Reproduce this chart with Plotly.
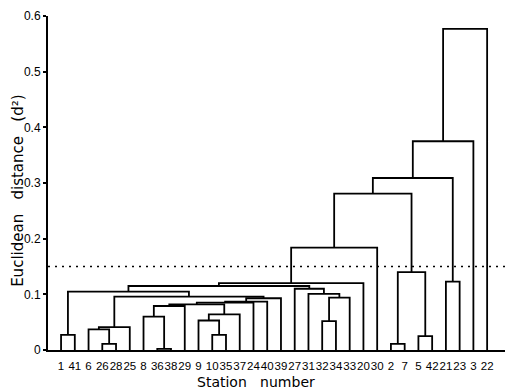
import plotly.graph_objects as go

# Leaves (stations) in dendrogram order
leaf_labels = ["1", "41", "6", "26", "28", "25", "8", "36", "38", "29", "9", "10",
               "35", "37", "24", "40", "39", "27", "31", "32", "34", "33", "20", "30",
               "2", "7", "5", "42", "21", "23", "3", "22"]

# Merges: name, left child, right child, fusion height (d^2)
merge_names = ["A", "c1", "c2", "B", "c3", "E", "G", "c4", "c5", "F", "H", "I", "J", "K",
               "BK", "D1", "N1", "N2", "N3", "O", "L", "M", "P", "q1", "q2", "Q", "R",
               "s1", "S", "T", "U"]
merge_left = ["1", "26", "6", "c2", "36", "8", "E", "10", "9", "c5", "G", "H", "I", "J",
              "B", "A", "32", "N1", "31", "27", "D1", "L", "M", "2", "5", "q1", "P",
              "21", "R", "S", "T"]
merge_right = ["41", "28", "c1", "25", "38", "c3", "29", "35", "c4", "37", "F", "24", "40", "39",
               "K", "BK", "34", "33", "N2", "N3", "O", "20", "30", "7", "42", "q2", "Q",
               "23", "s1", "3", "22"]
merge_height = [0.027, 0.011, 0.037, 0.041, 0.002, 0.060, 0.079, 0.027, 0.053, 0.064,
                0.082, 0.085, 0.087, 0.093, 0.096, 0.105, 0.052, 0.094, 0.101, 0.110,
                0.115, 0.120, 0.184, 0.011, 0.025, 0.140, 0.281, 0.123, 0.309, 0.375, 0.577]

cut_height = 0.15
y_tick_vals = [0, 0.1, 0.2, 0.3, 0.4, 0.5, 0.6]
y_tick_text = ["0", "0.1", "0.2", "0.3", "0.4", "0.5", "0.6"]

# Build dendrogram link coordinates from the merge table
pos = {lab: i for i, lab in enumerate(leaf_labels)}
hgt = {lab: 0.0 for lab in leaf_labels}
xs, ys = [], []
for name, l, r, h in zip(merge_names, merge_left, merge_right, merge_height):
    xs += [pos[l], pos[l], pos[r], pos[r], None]
    ys += [hgt[l], h, h, hgt[r], None]
    pos[name] = (pos[l] + pos[r]) / 2
    hgt[name] = h

x_range = [-0.95, 32.3]

fig = go.Figure()
fig.add_trace(go.Scatter(x=x_range, y=[cut_height, cut_height], mode="lines",
                         line=dict(color="black", width=1.5, dash="2px,5px"),
                         hoverinfo="skip", showlegend=False))
fig.add_trace(go.Scatter(x=xs, y=ys, mode="lines",
                         line=dict(color="black", width=1.8),
                         hoverinfo="skip", showlegend=False))

font_x = dict(family="Liberation Sans, Arial", size=11.5, color="black")
font_y = dict(family="Liberation Sans, Arial", size=12, color="black")

fig.update_layout(
    width=506, height=390,
    margin=dict(l=48, r=1, t=16, b=40, autoexpand=False),
    paper_bgcolor="white", plot_bgcolor="white",
    showlegend=False,
    xaxis=dict(range=x_range, showgrid=False, zeroline=False, automargin=False,
               showline=True, linecolor="black", linewidth=2,
               tickmode="array", tickvals=list(range(len(leaf_labels))),
               ticktext=leaf_labels, ticks="outside", ticklen=4,
               tickcolor="rgba(0,0,0,0)", tickfont=font_x, tickangle=0),
    yaxis=dict(range=[0, 0.6], showgrid=False, zeroline=False, automargin=False,
               showline=True, linecolor="black", linewidth=2,
               tickmode="array", tickvals=y_tick_vals, ticktext=y_tick_text,
               ticks="outside", ticklen=3, tickwidth=1.5, tickcolor="black",
               tickfont=font_y),
    annotations=[
        dict(text="Euclidean\u00a0\u00a0 distance\u00a0\u00a0 (d²)", xref="paper", yref="paper",
             x=-0.066, y=0.476, textangle=-90, showarrow=False,
             xanchor="center", yanchor="middle",
             font=dict(family="DejaVu Sans", size=15, color="black")),
        dict(text="Station\u00a0\u00a0 number", xref="paper", yref="paper",
             x=0.455, y=-0.096, showarrow=False,
             xanchor="center", yanchor="middle",
             font=dict(family="DejaVu Sans", size=14, color="black")),
    ],
)

fig.write_html("out.html", config={"displayModeBar": False},
               post_script="document.body.style.margin='0';document.body.style.overflow='hidden';")
